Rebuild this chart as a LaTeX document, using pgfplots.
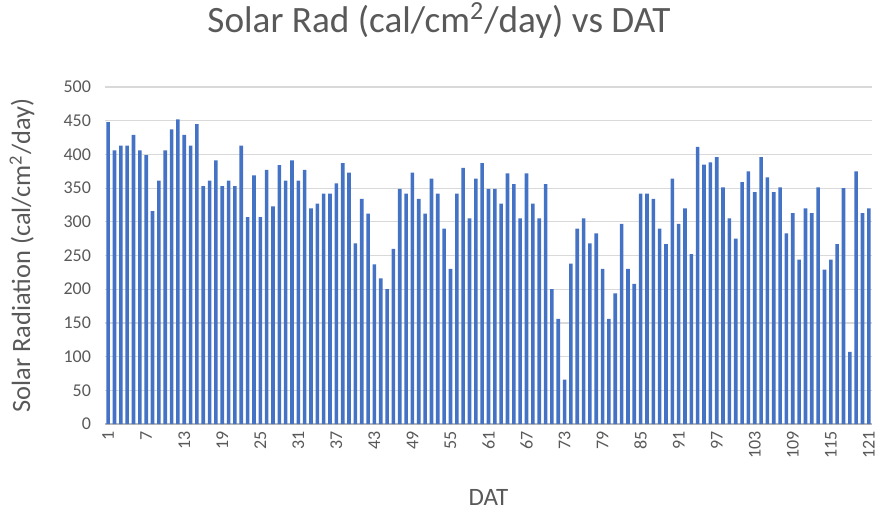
\documentclass[border=0pt]{standalone}
\usepackage{fontspec}
\setmainfont{Carlito}
\usepackage{pgfplots}
\pgfplotsset{compat=1.18}
\definecolor{barblue}{RGB}{68,114,196}
\definecolor{txtgray}{RGB}{89,89,89}
\definecolor{gridgray}{RGB}{217,217,217}

\begin{document}
\begin{tikzpicture}
  % page = 878x515 px at 0.5pt per px, plot box at (105,87)-(872,424)
  \path[use as bounding box] (-52.5pt,-45.5pt) rectangle (386.5pt,212pt);
  \begin{axis}[
    scale only axis,
    width=383.5pt, height=168.5pt,
    ybar, bar width=1.8pt, bar shift=0pt,
    xmin=0.5, xmax=121.5, ymin=0, ymax=500,
    xtick={1,7,...,121},
    ytick={0,50,...,500},
    major tick length=0pt,
    ymajorgrids, grid style={gridgray, line width=0.6pt},
    axis x line*=bottom, axis y line*=left,
    x axis line style={draw=gridgray!85!black, line width=0.6pt},
    y axis line style={draw=none},
    tick label style={font=\fontsize{9}{10}\selectfont, text=txtgray},
    /pgf/number format/assume math mode=true,
    xticklabel style={rotate=90, anchor=east},
    yticklabel style={xshift=-3.5pt},
    every axis title shift=0pt,
    title={Solar Rad (cal/cm\textsuperscript{2}/day) vs DAT},
    title style={font=\fontsize{18.6}{22}\selectfont, text=txtgray,
      at={(axis description cs:0.4355,1.163)}, anchor=base},
    xlabel={DAT},
    xlabel style={font=\fontsize{12.5}{14}\selectfont, text=txtgray,
      at={(axis description cs:0.5,-0.2166)}, anchor=center},
    ylabel={Solar Radiation (cal/cm\textsuperscript{2}/day)},
    ylabel style={font=\fontsize{13.2}{15}\selectfont, text=txtgray,
      at={(axis description cs:-0.1082,0.5)}, anchor=center},
  ]
    \addplot[fill=barblue, draw=none] coordinates {
      (1,448) (2,406) (3,413) (4,413) (5,429) (6,406) (7,399) (8,316) (9,361) (10,406)
      (11,437) (12,452) (13,429) (14,413) (15,445) (16,353) (17,361) (18,391) (19,353) (20,361)
      (21,353) (22,413) (23,307) (24,369) (25,307) (26,377) (27,323) (28,384) (29,361) (30,391)
      (31,361) (32,377) (33,320) (34,327) (35,342) (36,342) (37,357) (38,387) (39,373) (40,268)
      (41,334) (42,312) (43,237) (44,216) (45,200) (46,260) (47,349) (48,342) (49,373) (50,334)
      (51,312) (52,364) (53,342) (54,290) (55,230) (56,342) (57,380) (58,305) (59,364) (60,387)
      (61,349) (62,349) (63,327) (64,372) (65,356) (66,305) (67,372) (68,327) (69,305) (70,356)
      (71,200) (72,156) (73,66) (74,238) (75,290) (76,305) (77,268) (78,283) (79,230) (80,156)
      (81,194) (82,297) (83,230) (84,208) (85,342) (86,342) (87,334) (88,290) (89,267) (90,364)
      (91,297) (92,320) (93,252) (94,411) (95,385) (96,388) (97,396) (98,351) (99,305) (100,275)
      (101,359) (102,375) (103,344) (104,396) (105,366) (106,344) (107,351) (108,283) (109,313) (110,244)
      (111,320) (112,313) (113,351) (114,229) (115,244) (116,267) (117,350) (118,107) (119,375) (120,313)
      (121,320)
    };
  \end{axis}
\end{tikzpicture}
\end{document}
